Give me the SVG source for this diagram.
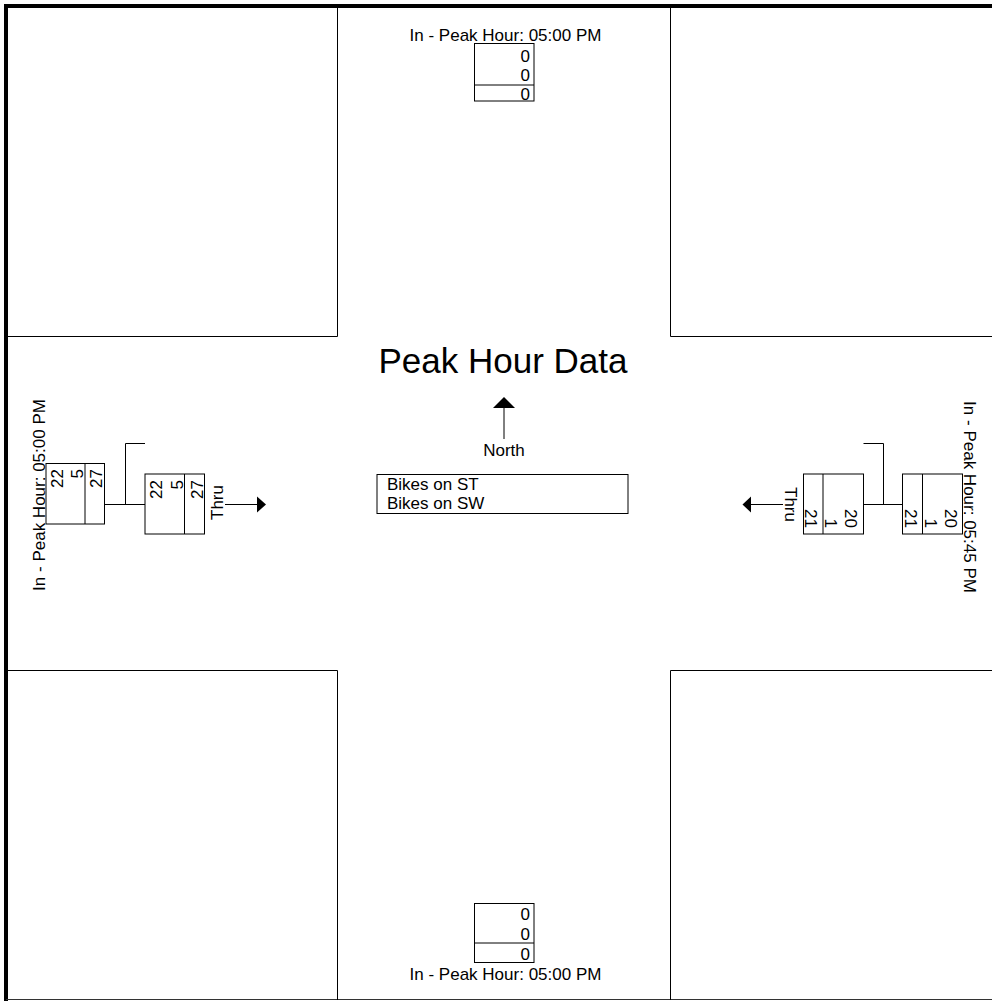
<svg xmlns="http://www.w3.org/2000/svg" width="992" height="1001" viewBox="0 0 992 1001">
<style>
text{font-family:"Liberation Sans",Arial,sans-serif;font-size:17px;fill:#000}
.ln{stroke:#000;stroke-width:1;fill:none}
.bx{stroke:#000;stroke-width:1;fill:#fff}
.r{text-anchor:end}
.m{text-anchor:middle}
.ah{fill:#000;stroke:none}
</style>
<rect width="992" height="1001" fill="#fff"/>
<g id="frame">
<path d="M6,1001 V6 H992" stroke="#000" stroke-width="4" fill="none"/>
<line x1="6" y1="999.5" x2="992" y2="999.5" stroke="#333" stroke-width="1"/>
</g>
<g id="blocks" class="ln">
<path class="ln" d="M337.5,8 V336.5 H8"/>
<path class="ln" d="M670.5,8 V336.5 H992"/>
<path class="ln" d="M8,670.5 H337.5 V1000"/>
<path class="ln" d="M992,670.5 H670.5 V1000"/>
</g>
<g id="title">
<text class="m" x="503" y="373" style="font-size:35px">Peak Hour Data</text>
</g>
<g id="north">
<line class="ln" x1="504" y1="408" x2="504" y2="439"/>
<polygon class="ah" points="504,397 493,408 515,408"/>
<text class="m" x="504" y="456">North</text>
</g>
<g id="legend">
<rect class="bx" x="377" y="474.5" width="251" height="39"/>
<text x="387" y="490">Bikes on ST</text>
<text x="387" y="509">Bikes on SW</text>
</g>
<g id="north-approach">
<text class="m" x="505.5" y="41">In - Peak Hour: 05:00 PM</text>
<rect class="bx" x="474.5" y="43.5" width="59.5" height="57.5"/>
<line class="ln" x1="474.5" y1="85" x2="534" y2="85"/>
<text class="r" x="530" y="62">0</text>
<text class="r" x="530" y="81">0</text>
<text class="r" x="530" y="100">0</text>
</g>
<g id="south-approach">
<rect class="bx" x="474.5" y="903.5" width="59.5" height="59"/>
<line class="ln" x1="474.5" y1="943" x2="534" y2="943"/>
<text class="r" x="530" y="920">0</text>
<text class="r" x="530" y="940">0</text>
<text class="r" x="530" y="960">0</text>
<text class="m" x="505.5" y="980">In - Peak Hour: 05:00 PM</text>
</g>
<g id="west-approach">
<rect class="bx" x="46" y="463.5" width="58.5" height="60.5"/>
<line class="ln" x1="85" y1="463.5" x2="85" y2="524"/>
<text class="m" transform="translate(44.5,495) rotate(-90)">In - Peak Hour: 05:00 PM</text>
<text class="r" transform="translate(63,469) rotate(-90)">22</text>
<text class="r" transform="translate(82.5,469) rotate(-90)">5</text>
<text class="r" transform="translate(101.5,469) rotate(-90)">27</text>
</g>
<g id="west-thru">
<rect class="bx" x="145" y="474" width="59.5" height="60"/>
<line class="ln" x1="184.5" y1="474" x2="184.5" y2="534"/>
<text class="r" transform="translate(162,480) rotate(-90)">22</text>
<text class="r" transform="translate(182.5,480) rotate(-90)">5</text>
<text class="r" transform="translate(202.5,480) rotate(-90)">27</text>
<text transform="translate(223,520) rotate(-90)">Thru</text>
</g>
<g id="east-approach">
<rect class="bx" x="902.5" y="474" width="60" height="60"/>
<line class="ln" x1="922.5" y1="474" x2="922.5" y2="534"/>
<text class="m" transform="translate(964,497) rotate(90)">In - Peak Hour: 05:45 PM</text>
<text class="r" transform="translate(945,528) rotate(90)">20</text>
<text class="r" transform="translate(925,528) rotate(90)">1</text>
<text class="r" transform="translate(905,528) rotate(90)">21</text>
</g>
<g id="east-thru">
<rect class="bx" x="803.5" y="474" width="60" height="60"/>
<line class="ln" x1="823" y1="474" x2="823" y2="534"/>
<text class="r" transform="translate(845,528) rotate(90)">20</text>
<text class="r" transform="translate(825,528) rotate(90)">1</text>
<text class="r" transform="translate(805,528) rotate(90)">21</text>
<text transform="translate(785,487) rotate(90)">Thru</text>
</g>
<g id="connectors">
<path class="ln" d="M104.5,504.5 H145 M125.5,504.5 V443.5 H145"/>
<line class="ln" x1="225" y1="504.5" x2="257" y2="504.5"/>
<polygon class="ah" points="266,504.5 257,496.5 257,512.5"/>
<path class="ln" d="M863.5,504.5 H902.5 M883.5,504.5 V443.5 H863.5"/>
<line class="ln" x1="783" y1="504.5" x2="751" y2="504.5"/>
<polygon class="ah" points="742.5,504.5 751,496.5 751,512.5"/>
</g>
</svg>
